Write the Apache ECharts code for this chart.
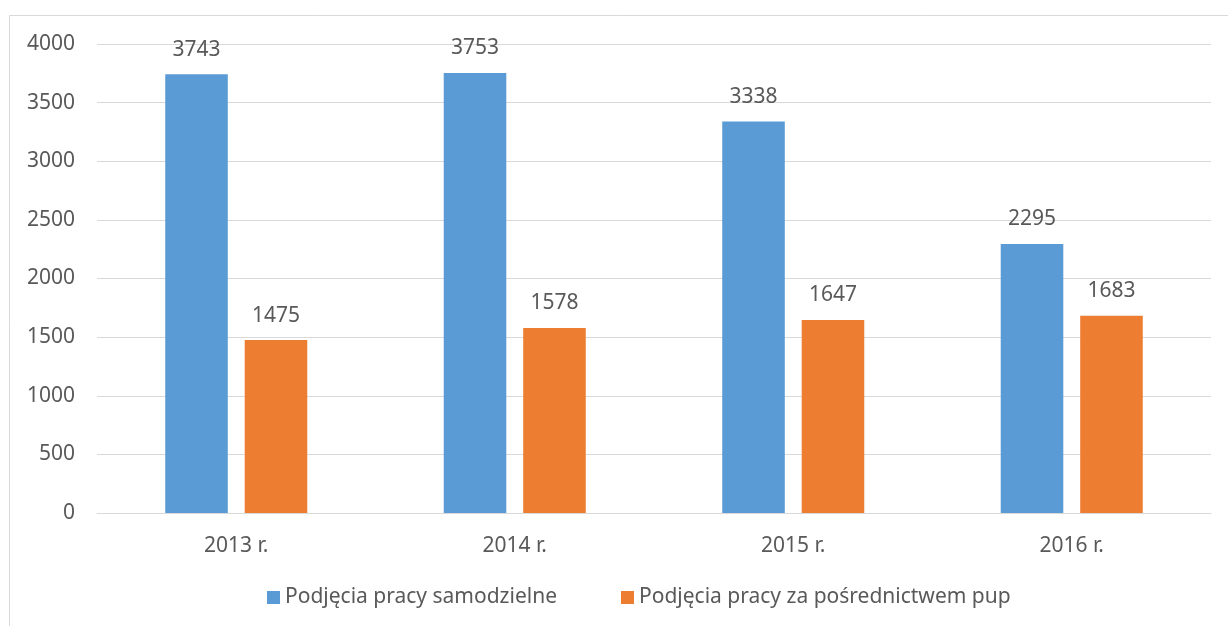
<!DOCTYPE html>
<html lang="pl">

<head>
    <meta charset="UTF-8">
    <title>Podjęcia pracy</title>
    <style>
        html,
        body,
        #main {
            width: 100%;
            height: 100%;
            margin: 0;
            padding: 0;
            background-color: #ffffff;
        }
    </style>
    <script src="https://cdn.jsdelivr.net/npm/echarts@6/dist/echarts.min.js"></script>
</head>

<body>
    <div id="main"></div>
    <script>
        // chart data
        const years = ['2013 r.', '2014 r.', '2015 r.', '2016 r.'];
        const selfStarted = [3743, 3753, 3338, 2295];
        const viaPup = [1475, 1578, 1647, 1683];
        const seriesNames = ['Podjęcia pracy samodzielne', 'Podjęcia pracy za pośrednictwem pup'];

        var chart = echarts.init(document.getElementById('main'));
        var font = '"Noto Sans", sans-serif';
        var textColor = '#595959';

        var option = {
            animation: false,
            textStyle: { fontFamily: font },
            graphic: [{
                type: 'rect',
                shape: { x: 9.5, y: 15.5, width: 1240, height: 700 },
                style: { fill: 'none', stroke: '#d9d9d9', lineWidth: 1 },
                silent: true
            }],
            grid: { left: 97, right: 17, top: 44, bottom: 113 },
            legend: {
                bottom: 13,
                left: 262,
                itemWidth: 13,
                itemHeight: 13,
                itemGap: 64,
                icon: 'rect',
                textStyle: { color: textColor, fontSize: 21, fontFamily: font },
                data: seriesNames
            },
            xAxis: {
                type: 'category',
                data: years,
                axisLine: { lineStyle: { color: '#d9d9d9', width: 1 } },
                axisTick: { show: false },
                axisLabel: { color: textColor, fontSize: 21, margin: 23, fontFamily: font }
            },
            yAxis: {
                type: 'value',
                min: 0,
                max: 4000,
                interval: 500,
                axisLine: { show: false },
                axisTick: { show: false },
                splitLine: { lineStyle: { color: '#d9d9d9', width: 1 } },
                axisLabel: {
                    color: textColor, fontSize: 21, margin: 22, fontFamily: font,
                    formatter: function (v) { return String(v); }
                }
            },
            series: [
                {
                    name: seriesNames[0],
                    type: 'bar',
                    data: selfStarted,
                    barGap: '27%',
                    barCategoryGap: '49%',
                    itemStyle: { color: '#5b9bd5' },
                    label: { show: true, position: 'top', distance: 14, color: textColor, fontSize: 21, fontFamily: font }
                },
                {
                    name: seriesNames[1],
                    type: 'bar',
                    data: viaPup,
                    barGap: '27%',
                    barCategoryGap: '49%',
                    itemStyle: { color: '#ed7d31' },
                    label: { show: true, position: 'top', distance: 14, color: textColor, fontSize: 21, fontFamily: font }
                }
            ]
        };

        chart.setOption(option);
    </script>
</body>

</html>
